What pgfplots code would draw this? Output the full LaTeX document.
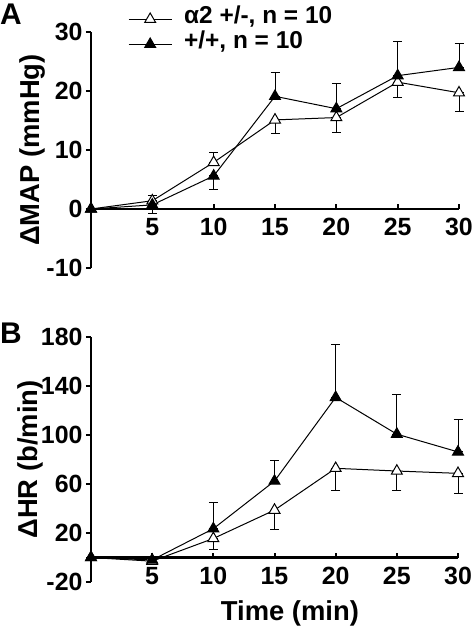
\documentclass[border=0pt]{standalone}
\usepackage{pgfplots}
\pgfplotsset{compat=1.18}
\usepackage{pgfplotstable}
\usepackage{fontspec}
\setmainfont{Liberation Sans}

% Panel A: Delta MAP
\pgfplotstableread{
x y ep em
0 0 0 0
5 1.4 0.9 0
10 7.9 1.7 0
15 15.1 0 2.3
20 15.5 0 2.6
25 21.5 0 2.6
30 19.7 0 3.2
}\mapHet
\pgfplotstableread{
x y ep em
0 0 0 0
5 0.7 0 1.5
10 5.6 0 2.3
15 19.1 4.1 0
20 17.0 4.2 0
25 22.6 5.8 0
30 24.0 4.1 0
}\mapWT
% Panel B: Delta HR
\pgfplotstableread{
x y ep em
0 0 0 0
5 -3 0 0
10 15.5 0 9
15 38.7 0 15.7
20 72.8 0 18.5
25 70.6 0 16.3
30 68.7 0 16.3
}\hrHet
\pgfplotstableread{
x y ep em
0 0 0 0
5 -2 0 0
10 23.5 21.3 0
15 62.4 17 0
20 130.7 42.8 0
25 100.7 32.7 0
30 86.2 26.7 0
}\hrWT

\newcommand\labf{\fontsize{27.5}{32}\selectfont\bfseries}
\newcommand\tickf{\fontsize{25}{30}\selectfont\bfseries}
\newcommand\legf{\fontsize{24.5}{29}\selectfont\bfseries}
\newcommand\letf{\fontsize{30}{34}\selectfont\bfseries}

\begin{document}
\begin{tikzpicture}[font=\labf]
\useasboundingbox (0,0) rectangle (472bp,-627bp);
\pgfplotsset{
 myaxis/.style={
  scale only axis, clip=false,
  axis x line*=middle, axis y line*=left,
  axis line style={line width=2.5bp, -},
  xmin=0, xmax=30,
  xtick={5,10,15,20,25,30},
  xticklabels={5,10,15,20,25,30},
  xtick align=inside, ytick align=outside,
  major tick length=5bp,
  tick style={line width=2bp, black},
  tick label style={font=\tickf},
  xticklabel style={yshift=-6bp},
  label style={font=\labf},
  hide obscured x ticks=false, hide obscured y ticks=false,
 },
 openS/.style={black, line width=1bp, mark=triangle*, mark size=6.3bp,
   mark options={fill=white, line width=1bp},
   error bars/.cd, y dir=both, y explicit,
   error mark options={rotate=90, mark size=4.5bp, line width=1bp},
   error bar style={line width=1bp}},
 fillS/.style={black, line width=1bp, mark=triangle*, mark size=6.3bp,
   mark options={fill=black, line width=1bp},
   error bars/.cd, y dir=both, y explicit,
   error mark options={rotate=90, mark size=4.5bp, line width=1bp},
   error bar style={line width=1bp}},
}
\begin{axis}[myaxis,
  at={(91bp,-268bp)}, anchor=south west,
  width=368bp, height=236bp,
  ymin=-10, ymax=30,
  ytick={-10,0,10,20,30}, yticklabels={-10,0,10,20,30},
  ylabel={ΔMAP (mmHg)},
  ylabel style={at={(axis description cs:-0.141,0.5)}, anchor=base},
  legend style={at={(axis description cs:0.1005,1.095)}, anchor=north west,
    draw=none, fill=none, inner sep=0pt, row sep=6bp,
    nodes={inner sep=2bp, text height=12bp, text depth=3bp},
    /tikz/every odd column/.append style={column sep=10bp},
    font=\legf},
  legend cell align=left,
  legend image code/.code={\draw[mark repeat=2,mark phase=2] plot coordinates {(0bp,0bp) (21.5bp,0bp) (43bp,0bp)};},
]
\addplot[openS] table[x=x, y=y, y error plus=ep, y error minus=em] {\mapHet};
\addlegendentry{α2 +/-, n = 10}
\addplot[fillS] table[x=x, y=y, y error plus=ep, y error minus=em] {\mapWT};
\addlegendentry{+/+, n = 10}
\end{axis}
\begin{axis}[myaxis,
  at={(91bp,-582bp)}, anchor=south west,
  width=367bp, height=245bp,
  ymin=-20, ymax=180,
  ytick={-20,20,60,100,140,180}, yticklabels={-20,20,60,100,140,180},
  ylabel={ΔHR (b/min)},
  ylabel style={at={(axis description cs:-0.147,0.5)}, anchor=base},
  xlabel={Time (min)},
  xlabel style={at={(axis description cs:0.542,-0.158)}, anchor=base},
]
\addplot[openS] table[x=x, y=y, y error plus=ep, y error minus=em] {\hrHet};
\addplot[fillS] table[x=x, y=y, y error plus=ep, y error minus=em] {\hrWT};
\end{axis}
\node[anchor=base west, inner sep=0pt, font=\letf] at (0bp,-24bp) {A};
\node[anchor=base west, inner sep=0pt, font=\letf] at (0bp,-343bp) {B};
\end{tikzpicture}
\end{document}
